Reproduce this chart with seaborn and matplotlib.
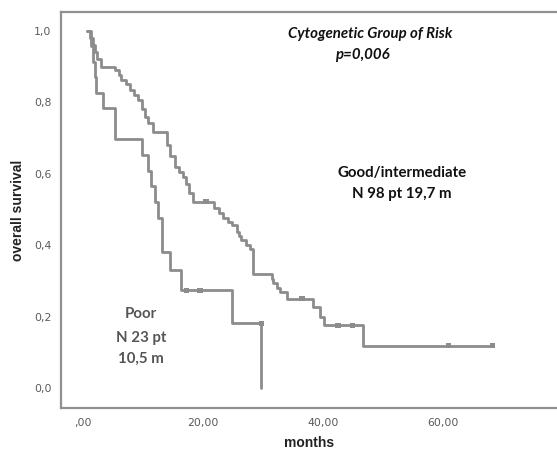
import numpy as np
import pandas as pd
import matplotlib
matplotlib.use("Agg")
import matplotlib.pyplot as plt
import seaborn as sns

# ---- data ----
good_time = [0, 0.7, 1.2, 1.6, 2.0, 2.4, 3.0, 5.3, 6.0, 6.4, 7.2, 7.8, 8.5, 9.2, 9.8, 10.3,
             10.9, 11.7, 14.0, 14.5, 15.3, 16.0, 16.7, 17.1, 17.6, 18.4, 21.9, 22.6, 23.4,
             24.1, 24.8, 25.6, 26.0, 26.4, 27.1, 27.8, 28.4, 31.5, 31.7, 32.3, 32.8, 34.0,
             38.4, 39.5, 40.1, 46.6, 68.3]
good_surv = [1.0, 1.0, 0.98, 0.96, 0.94, 0.92, 0.90, 0.89, 0.877, 0.863, 0.85, 0.835, 0.82,
             0.807, 0.78, 0.76, 0.742, 0.718, 0.68, 0.65, 0.62, 0.605, 0.59, 0.57, 0.546,
             0.522, 0.505, 0.49, 0.475, 0.466, 0.457, 0.438, 0.425, 0.415, 0.40, 0.39, 0.32,
             0.305, 0.293, 0.28, 0.27, 0.25, 0.228, 0.20, 0.176, 0.118, 0.118]
good_cens_t = [20.5, 36.5, 42.5, 44.9, 60.9, 68.3]
good_cens_s = [0.522, 0.25, 0.176, 0.176, 0.118, 0.118]

poor_time = [0, 0.7, 1.4, 1.7, 2.0, 2.2, 3.4, 5.3, 9.9, 10.9, 11.4, 12.0, 12.5, 13.1, 14.5,
             16.4, 24.8, 29.7, 29.7]
poor_surv = [1.0, 1.0, 0.957, 0.913, 0.87, 0.826, 0.783, 0.696, 0.652, 0.609, 0.565, 0.522,
             0.475, 0.382, 0.33, 0.274, 0.181, 0.181, 0.0]
poor_cens_t = [17.3, 19.5, 29.7]
poor_cens_s = [0.274, 0.274, 0.181]

yticks = [0.0, 0.2, 0.4, 0.6, 0.8, 1.0]
ytick_labels = ["0,0", "0,2", "0,4", "0,6", "0,8", "1,0"]
xticks = [0, 20, 40, 60]
xtick_labels = [",00", "20,00", "40,00", "60,00"]

# ---- build tables ----
steps = pd.concat([
    pd.DataFrame({"t": good_time[1:], "s": good_surv[1:], "g": "good"}),
    pd.DataFrame({"t": poor_time[1:], "s": poor_surv[1:], "g": "poor"}),
])
cens = pd.concat([
    pd.DataFrame({"t": good_cens_t, "s": good_cens_s, "g": "good"}),
    pd.DataFrame({"t": poor_cens_t, "s": poor_cens_s, "g": "poor"}),
])

sns.set_style("white")
fig = plt.figure(figsize=(5.57, 4.5), dpi=100)
ax = fig.add_axes([61 / 557, 1 - 408 / 450, 1 - 61 / 557, (408 - 12) / 450])

line_col = "#8c8c8c"
sns.lineplot(data=steps, x="t", y="s", hue="g",
             estimator=None, sort=False, drawstyle="steps-post",
             palette={"good": line_col, "poor": line_col}, linewidth=2.0,
             legend=False, ax=ax)
sns.scatterplot(data=cens, x="t", y="s", hue="g", marker="s", s=14,
                palette={"good": line_col, "poor": line_col}, edgecolor=line_col,
                linewidth=0, legend=False, ax=ax, zorder=3)

ax.set_xlim(-3.67, 79)
ax.set_ylim(-0.056, 1.053)
ax.set_xticks(xticks)
ax.set_xticklabels(xtick_labels)
ax.set_yticks(yticks)
ax.set_yticklabels(ytick_labels)
ax.tick_params(axis="both", direction="out", length=5, width=1.2, color="#777777",
               labelsize=7.8, labelcolor="#5a5a5a", pad=2)
for lab in ax.get_xticklabels() + ax.get_yticklabels():
    lab.set_fontfamily("DejaVu Sans")

for side in ["left", "bottom", "top"]:
    ax.spines[side].set_color("#909090")
    ax.spines[side].set_linewidth(1.6)
ax.spines["right"].set_visible(False)

ax.set_xlabel("months", fontsize=10, fontweight="bold", family="Liberation Sans",
              color="#222222", labelpad=6)
ax.set_ylabel("overall survival", fontsize=10, fontweight="bold", family="Liberation Sans",
              color="#222222", labelpad=6)

fam = "Lato"
fs = 10.8
ax.text(47.8, 0.99, "Cytogenetic Group of Risk", ha="center", va="center", fontsize=fs,
        fontweight="bold", fontstyle="italic", family=fam, color="#111111")
ax.text(46.5, 0.933, "p=0,006", ha="center", va="center", fontsize=fs,
        fontweight="bold", fontstyle="italic", family=fam, color="#111111")
ax.text(53.2, 0.602, "Good/intermediate", ha="center", va="center", fontsize=fs,
        fontweight="bold", family=fam, color="#111111")
ax.text(53.2, 0.543, "N 98 pt 19,7 m", ha="center", va="center", fontsize=fs,
        fontweight="bold", family=fam, color="#111111")
ax.text(9.7, 0.207, "Poor", ha="center", va="center", fontsize=fs,
        fontweight="bold", family=fam, color="#555555")
ax.text(9.7, 0.14, "N 23 pt", ha="center", va="center", fontsize=fs,
        fontweight="bold", family=fam, color="#555555")
ax.text(9.7, 0.081, "10,5 m", ha="center", va="center", fontsize=fs,
        fontweight="bold", family=fam, color="#555555")

fig.savefig("out.png", dpi=100)
